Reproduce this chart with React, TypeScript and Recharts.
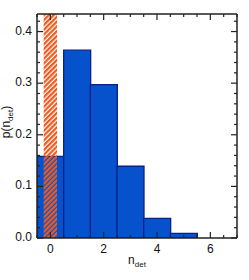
import { ComposedChart, Bar, XAxis, YAxis, ReferenceArea } from "recharts"

const N_DET = [0, 1, 2, 3, 4, 5, 6]
const PROB = [0.158, 0.364, 0.297, 0.139, 0.038, 0.009, 0]

const X_TICKS = [-0.5, 0, 0.5, 1, 1.5, 2, 2.5, 3, 3.5, 4, 4.5, 5, 5.5, 6, 6.5, 7]
const X_MAJOR = [0, 2, 4, 6]
const Y_TICKS = [0, 0.02, 0.04, 0.06, 0.08, 0.1, 0.12, 0.14, 0.16, 0.18, 0.2, 0.22, 0.24, 0.26, 0.28, 0.3, 0.32, 0.34, 0.36, 0.38, 0.4, 0.42]
const Y_MAJOR = [0, 0.1, 0.2, 0.3, 0.4]

const HATCH_RANGE = [-0.25, 0.25]

const data = N_DET.map((n, i) => ({ n, p: PROB[i] }))

const FONT = "'Liberation Sans', Arial, sans-serif"
const AXIS = "#222"

const isMajor = (list: number[], v: number) => list.some((m) => Math.abs(m - v) < 1e-6)

const XTick = ({ x, y, payload, side }: any) => {
  const major = isMajor(X_MAJOR, payload.value)
  const len = major ? 6 : 3
  const dir = side === "top" ? 1 : -1
  return (
    <g>
      <line x1={x} x2={x} y1={y} y2={y + dir * len} stroke={AXIS} strokeWidth={1.2} />
      {side === "bottom" && major && (
        <text x={x} y={y + 15} textAnchor="middle" fontSize={12} fontFamily={FONT} fill="#111">
          {payload.value}
        </text>
      )}
    </g>
  )
}

const YTick = ({ x, y, payload, side }: any) => {
  const major = isMajor(Y_MAJOR, payload.value)
  const len = major ? 6 : 3
  const dir = side === "left" ? 1 : -1
  return (
    <g>
      <line x1={x} x2={x + dir * len} y1={y} y2={y} stroke={AXIS} strokeWidth={1.2} />
      {side === "left" && major && (
        <text x={x - 5} y={y + 3} textAnchor="end" fontSize={12} fontFamily={FONT} fill="#111">
          {payload.value.toFixed(1)}
        </text>
      )}
    </g>
  )
}

export default function App() {
  return (
    <div style={{ position: "absolute", left: 0, top: 0, background: "#fff" }}>
      <ComposedChart
        width={249}
        height={280}
        data={data}
        barCategoryGap={0}
        barGap={0}
        margin={{ top: 13, right: 11, bottom: 41, left: 36 }}
      >
        <defs>
          <pattern id="hatch" width={3.4} height={3.4} patternUnits="userSpaceOnUse" patternTransform="rotate(45)">
            <rect x={0} y={0} width={2.2} height={3.4} fill="#ee5a1e" />
          </pattern>
        </defs>
        <XAxis
          dataKey="n"
          type="number"
          domain={[-0.5, 7]}
          ticks={X_TICKS}
          height={1}
          tickSize={0}
          tickMargin={0}
          tickLine={false}
          axisLine={{ stroke: AXIS, strokeWidth: 1.5 }}
          tick={(p: any) => <XTick {...p} side="bottom" />}
          interval={0}
          allowDataOverflow
          label={{
            content: ({ viewBox }: any) => (
              <text x={viewBox.x + viewBox.width / 2} y={viewBox.y + 26} textAnchor="middle" fontSize={12} fontFamily={FONT} fill="#111">
                n<tspan fontSize={8} dy={3}>det</tspan>
              </text>
            ),
          }}
        />
        <XAxis
          xAxisId="top"
          dataKey="n"
          type="number"
          orientation="top"
          domain={[-0.5, 7]}
          ticks={X_TICKS}
          height={1}
          tickSize={0}
          tickMargin={0}
          tickLine={false}
          axisLine={{ stroke: AXIS, strokeWidth: 1.5 }}
          tick={(p: any) => <XTick {...p} side="top" />}
          interval={0}
          allowDataOverflow
        />
        <YAxis
          type="number"
          domain={[0, 0.434]}
          ticks={Y_TICKS}
          width={1}
          tickSize={0}
          tickMargin={0}
          tickLine={false}
          axisLine={{ stroke: AXIS, strokeWidth: 1.5 }}
          tick={(p: any) => <YTick {...p} side="left" />}
          interval={0}
          allowDataOverflow
          label={{
            content: ({ viewBox }: any) => {
              const cx = 10
              const cy = viewBox.y + viewBox.height / 2 - 4
              return (
                <text x={cx} y={cy} transform={`rotate(-90 ${cx} ${cy})`} textAnchor="middle" fontSize={12} fontFamily={FONT} fill="#111">
                  p(n<tspan fontSize={8} dy={3}>det</tspan><tspan dy={-3}>)</tspan>
                </text>
              )
            },
          }}
        />
        <YAxis
          yAxisId="right"
          orientation="right"
          type="number"
          domain={[0, 0.434]}
          ticks={Y_TICKS}
          width={1}
          tickSize={0}
          tickMargin={0}
          tickLine={false}
          axisLine={{ stroke: AXIS, strokeWidth: 1.5 }}
          tick={(p: any) => <YTick {...p} side="right" />}
          interval={0}
          allowDataOverflow
        />
        <Bar dataKey="p" fill="#0652cc" stroke="#0a1f8a" strokeWidth={1.3} isAnimationActive={false} />
        <ReferenceArea
          x1={HATCH_RANGE[0]}
          x2={HATCH_RANGE[1]}
          y1={0}
          y2={0.434}
          fill="url(#hatch)"
          fillOpacity={1}
          stroke="none"
          zIndex={350}
        />
      </ComposedChart>
    </div>
  )
}
